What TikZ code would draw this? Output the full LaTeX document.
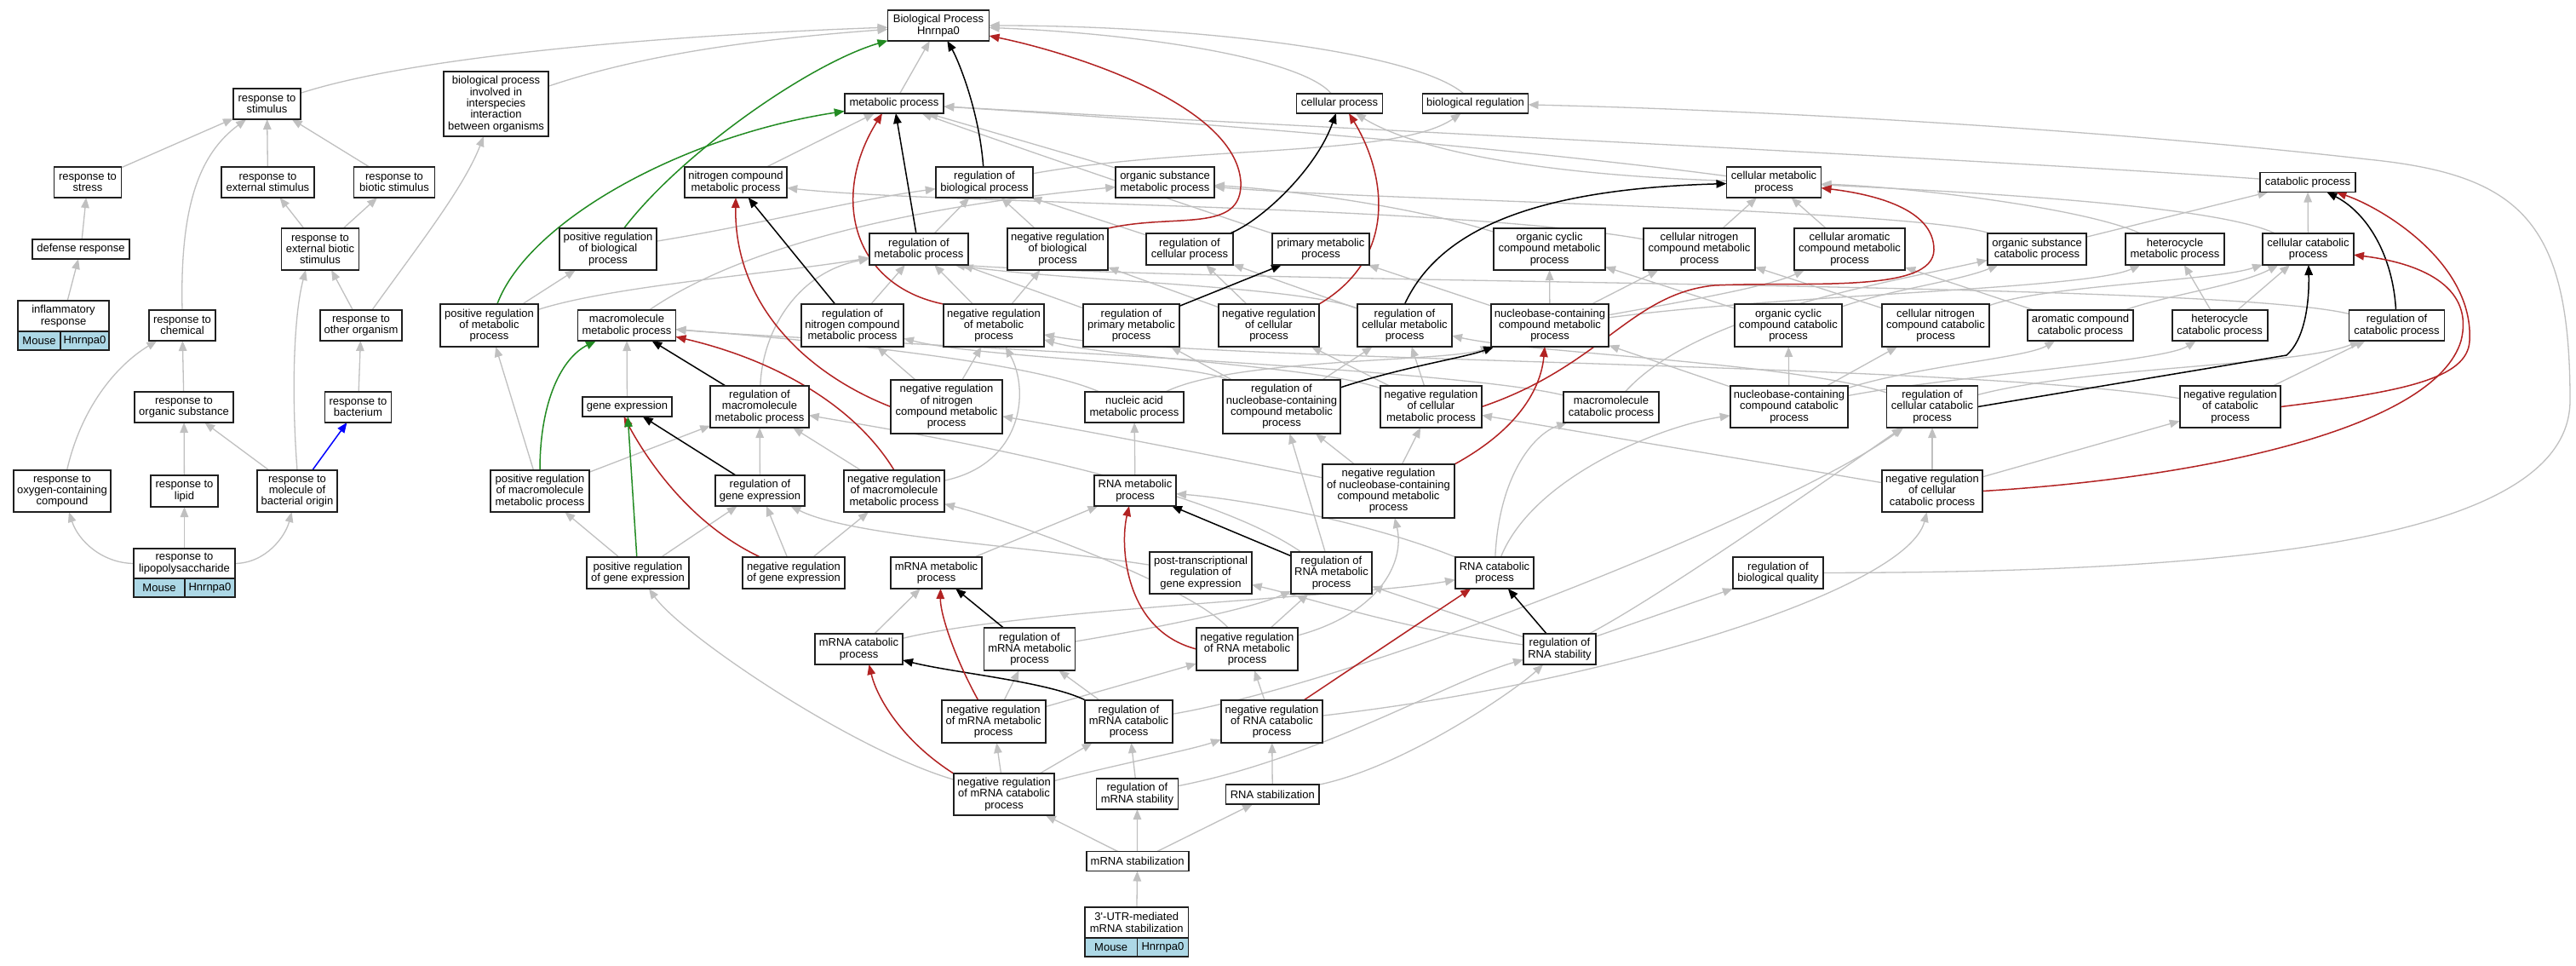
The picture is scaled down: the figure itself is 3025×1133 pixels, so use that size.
\documentclass[tikz,border=0pt]{standalone}
\usepackage{fontspec}
\setmainfont{Liberation Sans}
\usetikzlibrary{arrows.meta}
\definecolor{eg}{RGB}{192,192,192}
\definecolor{rd}{RGB}{178,34,34}
\definecolor{gn}{RGB}{34,139,34}
\definecolor{bl}{RGB}{0,0,255}
\definecolor{lb}{RGB}{173,216,230}
\newcommand\nodefont{\fontsize{13}{13.33}\selectfont}
\pgfdeclarelayer{bg}
\pgfsetlayers{bg,main}
\tikzset{
  box/.style={draw=black!88, line width=1.8pt, fill=white, inner sep=0pt, outer sep=0pt, align=center, font=\nodefont},
  cellbox/.style={box, fill=lb},
  tip/.style={-{Triangle[length=12pt,width=9.5pt]}},
  g/.style={draw=eg, line width=1.3pt, tip},
  k/.style={draw=black, line width=1.5pt, tip},
  r/.style={draw=rd, line width=1.5pt, tip},
  gr/.style={draw=gn, line width=1.5pt, tip},
  bu/.style={draw=bl, line width=1.5pt, tip},
}
\newcommand\bx[6]{\node[box,minimum width=#4pt,minimum height=#5pt] (#1) at (#2,#3) {#6};}
\begin{document}
\begin{tikzpicture}[x=1pt,y=-1pt]
\useasboundingbox (0,0) rectangle (3025,1133);
% rank 1
\bx{bp}{1102}{30}{119}{36}{Biological Process\\Hnrnpa0}
% rank 2
\bx{stim}{313.5}{122}{79}{36}{response to\\stimulus}
\bx{bpi}{582.5}{122}{123}{76}{biological process\\involved in\\interspecies\\interaction\\between organisms}
\bx{metab}{1050}{121.5}{116.5}{23}{metabolic process}
\bx{cellp}{1573}{121.5}{101}{23}{cellular process}
\bx{bioreg}{1732.5}{121.5}{124}{23}{biological regulation}
% rank 3
\bx{stress}{103}{214}{79}{36}{response to\\stress}
\bx{extstim}{314.5}{214}{109}{36}{response to\\external stimulus}
\bx{biotic}{463}{214}{95}{36}{response to\\biotic stimulus}
\bx{nitro}{864}{214}{120.5}{36}{nitrogen compound\\metabolic process}
\bx{rbp}{1156}{214}{114.5}{36}{regulation of\\biological process}
\bx{orgsub}{1368}{214}{115.5}{36}{organic substance\\metabolic process}
\bx{cellmet}{2083}{214}{111}{36}{cellular metabolic\\process}
\bx{catab}{2710}{214}{112}{23}{catabolic process}
% rank 4
\bx{defense}{95}{292.5}{114}{23}{defense response}
\bx{extbio}{376}{292.5}{91}{49}{response to\\external biotic\\stimulus}
\bx{prbp}{714}{292.5}{114.5}{49}{positive regulation\\of biological\\process}
\bx{rmp}{1079}{292.5}{116.5}{37}{regulation of\\metabolic process}
\bx{nrbp}{1242}{292.5}{118.5}{49}{negative regulation\\of biological\\process}
\bx{rcp}{1397}{292.5}{101.5}{37}{regulation of\\cellular process}
\bx{primary}{1551}{292.5}{113.5}{37}{primary metabolic\\process}
\bx{occmp}{1819.5}{292.5}{131}{49}{organic cyclic\\compound metabolic\\process}
\bx{cnmp}{1995.5}{292.5}{131}{49}{cellular nitrogen\\compound metabolic\\process}
\bx{camp}{2172}{292.5}{130.5}{49}{cellular aromatic\\compound metabolic\\process}
\bx{oscat}{2392}{292.5}{116.5}{37}{organic substance\\catabolic process}
\bx{hetmp}{2554}{292.5}{116}{37}{heterocycle\\metabolic process}
\bx{cellcat}{2710.5}{292.5}{107}{37}{cellular catabolic\\process}
% rank 5
\bx{inflam}{74.5}{371}{107}{36}{inflammatory\\response}
\node[cellbox,minimum width=50pt,minimum height=22pt] (inflamA) at (46,400) {Mouse};
\node[cellbox,minimum width=57pt,minimum height=22pt] (inflamB) at (99.5,400) {Hnrnpa0};
\bx{chem}{214}{382}{78.5}{36}{response to\\chemical}
\bx{other}{424}{382}{95.5}{36}{response to\\other organism}
\bx{prmp}{574.5}{382}{115}{50}{positive regulation\\of metabolic\\process}
\bx{mmp}{736}{382}{115}{36}{macromolecule\\metabolic process}
\bx{rncmp}{1001}{382}{120}{50}{regulation of\\nitrogen compound\\metabolic process}
\bx{nrmp}{1167}{382}{118}{50}{negative regulation\\of metabolic\\process}
\bx{rpmp}{1328.5}{382}{113}{50}{regulation of\\primary metabolic\\process}
\bx{nrcp}{1490}{382}{118}{50}{negative regulation\\of cellular\\process}
\bx{rcmp}{1649.5}{382}{111}{50}{regulation of\\cellular metabolic\\process}
\bx{nccmp}{1820}{382}{138.5}{50}{nucleobase-containing\\compound metabolic\\process}
\bx{occat}{2100}{382}{126.5}{50}{organic cyclic\\compound catabolic\\process}
\bx{cncat}{2273}{382}{126.5}{50}{cellular nitrogen\\compound catabolic\\process}
\bx{acat}{2443}{382}{124}{36}{aromatic compound\\catabolic process}
\bx{hcat}{2606.6}{382}{112}{36}{heterocycle\\catabolic process}
\bx{rcatab}{2814.5}{382}{112}{36}{regulation of\\catabolic process}
% rank 6
\bx{orgsubst}{216}{478}{116}{36}{response to\\organic substance}
\bx{bact}{420.5}{478}{78}{36}{response to\\bacterium}
\bx{geneexp}{736.5}{477.5}{105}{23}{gene expression}
\bx{rmmp}{892}{477.5}{115.5}{49}{regulation of\\macromolecule\\metabolic process}
\bx{nrncmp}{1111.5}{477.5}{131}{63}{negative regulation\\of nitrogen\\compound metabolic\\process}
\bx{namp}{1332}{478}{115.5}{36}{nucleic acid\\metabolic process}
\bx{rnccmp}{1505}{477.5}{138.5}{63}{regulation of\\nucleobase-containing\\compound metabolic\\process}
\bx{nrcmp}{1680.5}{477.5}{119}{49}{negative regulation\\of cellular\\metabolic process}
\bx{mcat}{1892}{478}{112}{36}{macromolecule\\catabolic process}
\bx{ncccat}{2101}{477.5}{138.5}{49}{nucleobase-containing\\compound catabolic\\process}
\bx{rccat}{2269}{477.5}{107}{49}{regulation of\\cellular catabolic\\process}
\bx{nrcatab}{2619}{477.5}{118.5}{49}{negative regulation\\of catabolic\\process}
% rank 7
\bx{oxy}{73}{576.5}{114}{49}{response to\\oxygen-containing\\compound}
\bx{lipid}{216.5}{576.5}{79}{37}{response to\\lipid}
\bx{mbo}{349}{576.5}{94.5}{49}{response to\\molecule of\\bacterial origin}
\bx{prmmp}{634}{576.5}{116}{49}{positive regulation\\of macromolecule\\metabolic process}
\bx{rge}{892.5}{576}{105}{36}{regulation of\\gene expression}
\bx{nrmmp}{1050}{576.5}{118}{49}{negative regulation\\of macromolecule\\metabolic process}
\bx{rnamp}{1333}{576}{96}{36}{RNA metabolic\\process}
\bx{nrnccmp}{1630.5}{576.5}{155}{63}{negative regulation\\of nucleobase-containing\\compound metabolic\\process}
\bx{nrccat}{2269}{576.5}{118.5}{49}{negative regulation\\of cellular\\catabolic process}
% rank 8
\bx{lps}{216.5}{661.5}{119}{35}{response to\\lipopolysaccharide}
\node[cellbox,minimum width=60pt,minimum height=22pt] (lpsA) at (187,690) {Mouse};
\node[cellbox,minimum width=59pt,minimum height=22pt] (lpsB) at (246.5,690) {Hnrnpa0};
\bx{prge}{749}{672.5}{120}{37}{positive regulation\\of gene expression}
\bx{nrge}{932}{672.5}{119.5}{37}{negative regulation\\of gene expression}
\bx{mrnamp}{1099.5}{672.5}{107}{37}{mRNA metabolic\\process}
\bx{ptrge}{1410}{672.5}{119.5}{49}{post-transcriptional\\regulation of\\gene expression}
\bx{rrnamp}{1563.5}{672.5}{95}{49}{regulation of\\RNA metabolic\\process}
\bx{rnacat}{1755}{672.5}{92}{37}{RNA catabolic\\process}
\bx{rbq}{2088}{672.5}{106.5}{37}{regulation of\\biological quality}
% rank 9
\bx{mrnacat}{1008.5}{762}{103}{36}{mRNA catabolic\\process}
\bx{rmrnamp}{1209}{762}{107}{50}{regulation of\\mRNA metabolic\\process}
\bx{nrrnamp}{1464.5}{762}{119}{50}{negative regulation\\of RNA metabolic\\process}
\bx{rrnastab}{1831.5}{762}{85}{36}{regulation of\\RNA stability}
% rank 10
\bx{nrmrnamp}{1166.7}{847}{122}{50}{negative regulation\\of mRNA metabolic\\process}
\bx{rmrnacat}{1325.5}{847}{103}{50}{regulation of\\mRNA catabolic\\process}
\bx{nrrnacat}{1493.5}{847}{119}{50}{negative regulation\\of RNA catabolic\\process}
% rank 11
\bx{nrmrnacat}{1179}{932.5}{118.5}{49}{negative regulation\\of mRNA catabolic\\process}
\bx{rmrnastab}{1335.4}{932}{96}{36}{regulation of\\mRNA stability}
\bx{rnastab}{1494.3}{932.5}{109.5}{23}{RNA stabilization}
% rank 12-13
\bx{mrnastab}{1335.6}{1011}{120}{23}{mRNA stabilization}
\bx{utr}{1334.75}{1083}{121.5}{36}{3\textquotesingle-UTR-mediated\\mRNA stabilization}
\node[cellbox,minimum width=61.4pt,minimum height=22pt] (utrA) at (1304.7,1112) {Mouse};
\node[cellbox,minimum width=60.1pt,minimum height=22pt] (utrB) at (1365.45,1112) {Hnrnpa0};

\begin{pgfonlayer}{bg}
\fill[white] (0,0) rectangle (3025,1133);
% ---- gray is_a edges ----
\draw[g] (stim) .. controls (500,62) and (820,40) .. (bp);
\draw[g] (bpi) .. controls (760,62) and (900,45) .. (bp);
\draw[g] (metab) -- (bp);
\draw[g] (cellp) .. controls (1530,70) and (1350,40) .. (bp);
\draw[g] (bioreg) .. controls (1660,60) and (1400,30) .. (bp);
\draw[g] (stress) -- (stim);
\draw[g] (extstim) -- (stim);
\draw[g] (biotic) -- (stim);
\draw[g] (chem.north) .. controls (211,240) and (235,180) .. (stim);
\draw[g] (defense) -- (stress);
\draw[g] (inflam) -- (defense);
\draw[g] (extbio) -- (extstim);
\draw[g] (extbio) -- (biotic);
\draw[g] (other) -- (extbio);
\draw[g] (other) .. controls (490,290) and (545,220) .. (bpi);
\draw[g] (orgsubst) -- (chem);
\draw[g] (oxy) .. controls (95,480) and (135,430) .. (chem);
\draw[g] (bact) -- (other);
\draw[g] (mbo) -- (orgsubst);
\draw[g] (mbo.north) .. controls (342,460) and (345,370) .. ([xshift=-17pt]extbio.south);
\draw[g] (lipid) -- (orgsubst);
\draw[g] (lps.west) .. controls (120,661) and (92,635) .. (oxy);
\draw[g] (lps) -- (lipid);
\draw[g] (lps.east) .. controls (312,661) and (335,630) .. (mbo);
\draw[g] (nitro) -- (metab);
\draw[g] (orgsub) -- (metab);
\draw[g] (primary) .. controls (1420,250) and (1200,175) .. (metab);
\draw[g] (cellmet) .. controls (1750,170) and (1350,140) .. (metab);
\draw[g] (catab) .. controls (2300,185) and (1450,145) .. (metab);
\draw[g] (cellmet) .. controls (1800,205) and (1660,175) .. (cellp);
\draw[g] (rbp) .. controls (1400,170) and (1640,185) .. (bioreg);
\draw[g] (rbq) .. controls (2600,672) and (3018,640) .. (3018,470) .. controls (3018,260) and (2960,205) .. (2780,187) .. controls (2500,155) and (2100,130) .. (bioreg);
\draw[g] (prbp) .. controls (900,262) and (1000,235) .. (rbp);
\draw[g] (nrbp) -- (rbp);
\draw[g] (rmp) -- (rbp);
\draw[g] (rcp) -- (rbp);
\draw[g] (prmp) -- (prbp);
\draw[g] (prmp) .. controls (720,335) and (920,320) .. (rmp);
\draw[g] (rncmp) -- (rmp);
\draw[g] (nrmp) -- (rmp);
\draw[g] (rpmp) -- (rmp);
\draw[g] (rcmp) .. controls (1520,335) and (1250,330) .. ([xshift=42pt]rmp.south);
\draw[g] (rcatab) .. controls (2600,330) and (1500,335) .. ([xshift=46pt]rmp.south);
\draw[g] (rmmp) .. controls (895,390) and (935,320) .. (rmp);
\draw[g] (nrmp) -- (nrbp);
\draw[g] (nrcp) -- (nrbp);
\draw[g] (nrcp) -- (rcp);
\draw[g] (rcmp) -- (rcp);
\draw[g] (mmp) .. controls (900,270) and (1150,235) .. (orgsub);
\draw[g] (occmp) .. controls (1650,240) and (1500,222) .. (orgsub);
\draw[g] (oscat) .. controls (2250,245) and (1600,235) .. (orgsub);
\draw[g] (cnmp) .. controls (1700,240) and (1100,240) .. (nitro);
\draw[g] (cnmp) -- (cellmet);
\draw[g] (camp) -- (cellmet);
\draw[g] (hetmp) .. controls (2450,245) and (2250,220) .. (cellmet);
\draw[g] (cellcat) .. controls (2600,240) and (2300,225) .. (cellmet);
\draw[g] (oscat) -- (catab);
\draw[g] (cellcat) -- (catab);
\draw[g] (nccmp) -- (occmp);
\draw[g] (nccmp) -- (cnmp);
\draw[g] (nccmp) .. controls (2000,350) and (2080,335) .. (camp);
\draw[g] (nccmp) .. controls (2100,345) and (2450,340) .. (hetmp);
\draw[g] (nccmp) -- (primary);
\draw[g] (occat) -- (occmp);
\draw[g] (occat) .. controls (2220,340) and (2300,330) .. (oscat);
\draw[g] (cncat) -- (cnmp);
\draw[g] (cncat) .. controls (2400,335) and (2600,330) .. (cellcat);
\draw[g] (acat) -- (camp);
\draw[g] (acat) .. controls (2550,345) and (2630,335) .. (cellcat);
\draw[g] (hcat) -- (hetmp);
\draw[g] (hcat) -- (cellcat);
\draw[g] (nrncmp) -- (rncmp);
\draw[g] (nrncmp) -- (nrmp);
\draw[g] (geneexp) -- (mmp);
\draw[g] (prmmp) -- (prmp);
\draw[g] (prmmp) -- (rmmp);
\draw[g] (nrmmp) -- (rmmp);
\draw[g] (nrmmp) .. controls (1200,545) and (1210,460) .. (nrmp);
\draw[g] (rge) -- (rmmp);
\draw[g] (nrge) -- (rge);
\draw[g] (nrge) -- (nrmmp);
\draw[g] (prge) -- (prmmp);
\draw[g] (prge) -- (rge);
\draw[g] (ptrge) .. controls (1200,640) and (1000,630) .. (rge);
\draw[g] (namp) .. controls (1200,420) and (900,395) .. (mmp);
\draw[g] (namp) .. controls (1450,420) and (1700,425) .. (nccmp);
\draw[g] (rnamp) -- (namp);
\draw[g] (rnccmp) -- (rcmp);
\draw[g] (rnccmp) -- (rpmp);
\draw[g] (rnccmp) .. controls (1400,425) and (1150,420) .. (rncmp);
\draw[g] (nrcmp) -- (rcmp);
\draw[g] (nrcmp) -- (nrcp);
\draw[g] (nrcmp) .. controls (1550,430) and (1300,420) .. (nrmp);
\draw[g] (mcat) .. controls (1700,430) and (950,400) .. (mmp);
\draw[g] (mcat) .. controls (1990,370) and (2200,335) .. (oscat);
\draw[g] (ncccat) -- (nccmp);
\draw[g] (ncccat) -- (occat);
\draw[g] (ncccat) -- (cncat);
\draw[g] (ncccat) .. controls (2250,430) and (2380,420) .. (acat);
\draw[g] (ncccat) .. controls (2300,440) and (2540,425) .. (hcat);
\draw[g] (rccat) .. controls (2100,425) and (1800,415) .. (rcmp);
\draw[g] (rccat) .. controls (2450,430) and (2700,430) .. (rcatab);
\draw[g] (nrcatab) -- (rcatab);
\draw[g] (nrcatab) .. controls (2300,425) and (1400,425) .. (nrmp);
\draw[g] (nrccat) -- (rccat);
\draw[g] (nrccat) -- (nrcatab);
\draw[g] (nrccat) -- (nrcmp);
\draw[g] (mrnamp) -- (rnamp);
\draw[g] (rrnamp) -- (rnccmp);
\draw[g] (rrnamp) .. controls (1400,560) and (1050,505) .. (rmmp);
\draw[g] (rnacat) .. controls (1600,610) and (1450,585) .. (rnamp);
\draw[g] (rnacat) .. controls (1760,560) and (1800,510) .. (mcat);
\draw[g] (rnacat) .. controls (1800,560) and (1950,500) .. (ncccat);
\draw[g] (mrnacat) -- (mrnamp);
\draw[g] (mrnacat) .. controls (1200,715) and (1600,700) .. (rnacat);
\draw[g] (rmrnamp) .. controls (1400,730) and (1480,710) .. (rrnamp);
\draw[g] (nrrnamp) -- (rrnamp);
\draw[g] (nrrnamp) .. controls (1620,720) and (1650,660) .. (nrnccmp);
\draw[g] (nrrnamp) .. controls (1400,690) and (1200,615) .. (nrmmp);
\draw[g] (nrnccmp) -- (rnccmp);
\draw[g] (nrnccmp) -- (nrcmp);
\draw[g] (nrnccmp) .. controls (1450,540) and (1300,510) .. (nrncmp);
\draw[g] (nrmrnamp) -- (rmrnamp);
\draw[g] (nrmrnamp) -- (nrrnamp);
\draw[g] (rmrnacat) -- (rmrnamp);
\draw[g] (rmrnacat) .. controls (1600,800) and (2100,600) .. (rccat);
\draw[g] (nrmrnacat) -- (nrmrnamp);
\draw[g] (nrmrnacat) -- (rmrnacat);
\draw[g] (nrmrnacat) .. controls (1300,900) and (1400,880) .. (nrrnacat);
\draw[g] (nrmrnacat) .. controls (1000,880) and (800,745) .. (prge);
\draw[g] (rmrnastab) -- (rmrnacat);
\draw[g] (rmrnastab) .. controls (1550,890) and (1700,800) .. (rrnastab);
\draw[g] (rnastab) -- (nrrnacat);
\draw[g] (rnastab) .. controls (1650,900) and (1780,810) .. (rrnastab);
\draw[g] (mrnastab) -- (nrmrnacat);
\draw[g] (mrnastab) -- (rmrnastab);
\draw[g] (mrnastab) -- (rnastab);
\draw[g] (utr) -- (mrnastab);
\draw[g] (nrrnacat) -- (nrrnamp);
\draw[g] (nrrnacat) .. controls (1900,800) and (2240,690) .. (nrccat);
\draw[g] (rrnastab) -- (rbq);
\draw[g] (rrnastab) -- (rrnamp);
\draw[g] (rrnastab) .. controls (1650,740) and (1550,705) .. (ptrge);
\draw[g] (rrnastab) .. controls (1950,700) and (2150,560) .. (rccat);
% ---- black regulates ----
\draw[k] (rbp) .. controls (1150,130) and (1125,70) .. (bp);
\draw[k] (rmp) -- (metab);
\draw[k] (rcp) .. controls (1480,260) and (1545,200) .. (cellp);
\draw[k] (rncmp) -- (nitro);
\draw[k] (rpmp) -- (primary);
\draw[k] (rcmp.north) .. controls (1690,270) and (1800,222) .. (cellmet);
\draw[k] (rcatab) .. controls (2810,300) and (2780,250) .. (catab);
\draw[k] (rccat.east) -- (2685,417) .. controls (2705,400) and (2712,360) .. (cellcat);
\draw[k] (rmmp) -- (mmp);
\draw[k] (rge) -- (geneexp);
\draw[k] (rnccmp) .. controls (1650,430) and (1720,420) .. (nccmp);
\draw[k] (rrnamp) -- (rnamp);
\draw[k] (rmrnamp) -- (mrnamp);
\draw[k] (rmrnacat) .. controls (1230,800) and (1120,790) .. (mrnacat);
\draw[k] (rrnastab) -- (rnacat);
% ---- red negatively regulates ----
\draw[r] (nrbp.north east) .. controls (1380,250) and (1460,275) .. (1457,213) .. controls (1450,120) and (1250,60) .. (bp);
\draw[r] (nrmp.north west) .. controls (1000,335) and (975,230) .. ([xshift=-14pt]metab.south);
\draw[r] (nrcp.north east) .. controls (1645,300) and (1625,200) .. ([xshift=11pt]cellp.south);
\draw[r] (nrncmp.west) .. controls (950,440) and (862,360) .. (nitro.south);
\draw[r] (nrmmp.north) .. controls (1000,470) and (900,420) .. (mmp);
\draw[r] (nrge) .. controls (810,615) and (760,540) .. ([xshift=-4pt]geneexp.south);
\draw[r] (nrcmp.east) .. controls (1880,430) and (1915,345) .. (2013,335) .. controls (2120,330) and (2271,345) .. (2271,293) .. controls (2271,245) and (2200,228) .. (cellmet);
\draw[r] (nrnccmp.north east) .. controls (1790,500) and (1810,450) .. ([xshift=-6pt]nccmp.south);
\draw[r] (nrcatab.east) .. controls (2820,460) and (2898,445) .. (2900,400) .. controls (2905,310) and (2800,245) .. (catab);
\draw[r] (nrccat.east) .. controls (2600,560) and (2860,500) .. (2890,400) .. controls (2905,340) and (2850,310) .. (cellcat);
\draw[r] (nrrnamp.west) .. controls (1320,740) and (1315,640) .. ([xshift=-7pt]rnamp.south);
\draw[r] ([xshift=-18pt]nrmrnamp.north) .. controls (1120,770) and (1104,720) .. ([xshift=5pt]mrnamp.south);
\draw[r] (nrmrnacat.north west) .. controls (1060,870) and (1030,820) .. ([xshift=12pt]mrnacat.south);
\draw[r] (nrrnacat) -- (rnacat);
% ---- green positively regulates ----
\draw[gr] (prbp) .. controls (800,180) and (950,75) .. (bp);
\draw[gr] (prmp) .. controls (620,260) and (800,160) .. (metab);
\draw[gr] (prmmp.north) .. controls (634,470) and (660,420) .. (mmp);
\draw[gr] (prge) -- (geneexp);
% ---- blue part_of ----
\draw[bu] (mbo) -- (bact);
\end{pgfonlayer}
\end{tikzpicture}
\end{document}
